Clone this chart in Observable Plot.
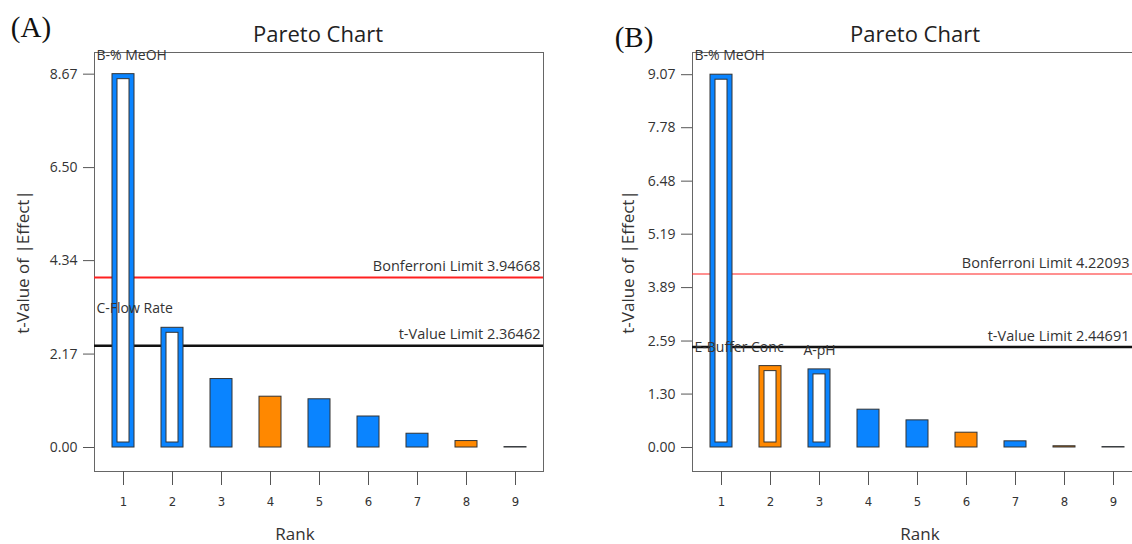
<!DOCTYPE html>
<html><head><meta charset="utf-8">
<script src="https://cdn.jsdelivr.net/npm/d3@7"></script>
<script src="https://cdn.jsdelivr.net/npm/@observablehq/plot@0.6"></script>
<style>
body{margin:0;background:#fff;overflow:hidden}
#wrap{position:relative;width:1132px;height:544px;overflow:hidden;font-family:"Open Sans",sans-serif;color:#222}
.abs{position:absolute;white-space:nowrap;transform:translate(-50%,-50%);line-height:1}
.panel{position:absolute;top:0}
.panel svg{overflow:visible;max-width:none !important}
</style></head><body><div id="wrap"></div>
<script>
// ---- data ----
const ranks = [1, 2, 3, 4, 5, 6, 7, 8, 9];

const tValuesA = [8.67, 2.78, 1.59, 1.18, 1.12, 0.72, 0.32, 0.15, 0.01];
const signsA   = ["pos", "pos", "pos", "neg", "pos", "pos", "pos", "neg", "pos"];
const labelsA  = ["B-% MeOH", "C-Flow Rate", "", "", "", "", "", "", ""];
const bonferroniA = 3.94668;
const tLimitA = 2.36462;
const yTicksA = [0.00, 2.17, 4.34, 6.50, 8.67];

const tValuesB = [9.07, 1.98, 1.90, 0.92, 0.66, 0.36, 0.15, 0.03, 0.01];
const signsB   = ["pos", "neg", "pos", "pos", "pos", "neg", "pos", "neg", "pos"];
const labelsB  = ["B-% MeOH", "E-Buffer Conc", "A-pH", "", "", "", "", "", ""];
const bonferroniB = 4.22093;
const tLimitB = 2.44691;
const yTicksB = [0.00, 1.30, 2.59, 3.89, 5.19, 6.48, 7.78, 9.07];

const BLUE = "#0A84FF", ORANGE = "#FF8800";

function panel({values, signs, labels, bonf, tlim, ticks, yDomain, width, marginLeft, marginRight, bonfWidth, labelDx}) {
  const data = ranks.map((r, i) => ({rank: r, t: values[i], sign: signs[i], label: labels[i]}));
  const labelled = data.filter(d => d.label);
  return Plot.plot({
    width, height: 544,
    marginLeft, marginRight, marginTop: 52, marginBottom: 73,
    style: {fontFamily: "'Open Sans', sans-serif", fontSize: "14px", color: "#555", background: "transparent"},
    x: {type: "band", domain: ranks, paddingInner: 0.56, paddingOuter: 0.28, axis: null},
    y: {domain: yDomain, axis: null},
    color: {domain: ["pos", "neg"], range: [BLUE, ORANGE]},
    marks: [
      Plot.frame({stroke: "#666"}),
      Plot.axisY({ticks, tickSize: 11, tickPadding: 6, tickFormat: d => d.toFixed(2), label: null,
                  fill: "#333", fontSize: 14}),
      Plot.axisX({tickSize: 14, tickPadding: 11, label: null, fill: "#333", fontSize: 13,
                  fontFamily: "'DejaVu Sans Condensed', sans-serif"}),
      Plot.ruleY([bonf], {stroke: "#ff2020", strokeWidth: bonfWidth}),
      Plot.ruleY([tlim], {stroke: "#111", strokeWidth: 2.5}),
      Plot.barY(data, {x: "rank", y: "t", fill: "sign", stroke: "#333", strokeWidth: 1}),
      Plot.barY(labelled, {x: "rank", y: "t", fill: "white", stroke: "#333", strokeWidth: 1, inset: 5}),
      Plot.text(labelled.filter(d => d.rank <= 2), {y: "t", text: "label", frameAnchor: "left",
                  textAnchor: "start", dx: 2, dy: -19, fill: "#333", fontSize: 14}),
      Plot.text(labelled.filter(d => d.rank > 2), {x: "rank", y: "t", text: "label",
                  dy: -19, fill: "#333", fontSize: 14}),
      Plot.text([bonf], {y: d => d, text: d => `Bonferroni Limit ${d}`, frameAnchor: "right",
                  textAnchor: "end", dx: labelDx, dy: -11, fill: "#333", fontSize: 14.5}),
      Plot.text([tlim], {y: d => d, text: d => `t-Value Limit ${d}`, frameAnchor: "right",
                  textAnchor: "end", dx: labelDx, dy: -11, fill: "#333", fontSize: 14.5})
    ]
  });
}

const wrap = document.getElementById("wrap");

function addPanel(el, left, width) {
  const div = document.createElement("div");
  div.className = "panel";
  div.style.left = left + "px";
  div.style.width = width + "px";
  div.appendChild(el);
  wrap.appendChild(div);
}

addPanel(panel({values: tValuesA, signs: signsA, labels: labelsA, bonf: bonferroniA, tlim: tLimitA,
  ticks: yTicksA, yDomain: [-0.557, 9.173], width: 566, marginLeft: 94, marginRight: 23, bonfWidth: 2, labelDx: -3}), 0, 566);

addPanel(panel({values: tValuesB, signs: signsB, labels: labelsB, bonf: bonferroniB, tlim: tLimitB,
  ticks: yTicksB, yDomain: [-0.584, 9.61], width: 598, marginLeft: 126, marginRight: 23, bonfWidth: 1, labelDx: -12}), 566, 598);

function addText(txt, x, y, css) {
  const d = document.createElement("div");
  d.className = "abs";
  d.textContent = txt;
  d.style.left = x + "px";
  d.style.top = y + "px";
  Object.assign(d.style, css || {});
  wrap.appendChild(d);
}

const serif = {fontFamily: "'Liberation Serif', 'Times New Roman', serif", fontSize: "29px", color: "#111"};
addText("(A)", 31, 27, serif);
addText("(B)", 634, 37, serif);
addText("Pareto Chart", 318, 33, {fontSize: "22px", color: "#222"});
addText("Pareto Chart", 915, 33, {fontSize: "22px", color: "#222"});
addText("Rank", 295, 533, {fontSize: "17px", color: "#333"});
addText("Rank", 920, 533, {fontSize: "17px", color: "#333"});
addText("t-Value of |Effect|", 22, 262, {fontSize: "17px", color: "#333", transform: "translate(-50%,-50%) rotate(-90deg)"});
addText("t-Value of |Effect|", 627, 262, {fontSize: "17px", color: "#333", transform: "translate(-50%,-50%) rotate(-90deg)"});
</script>
</body></html>
